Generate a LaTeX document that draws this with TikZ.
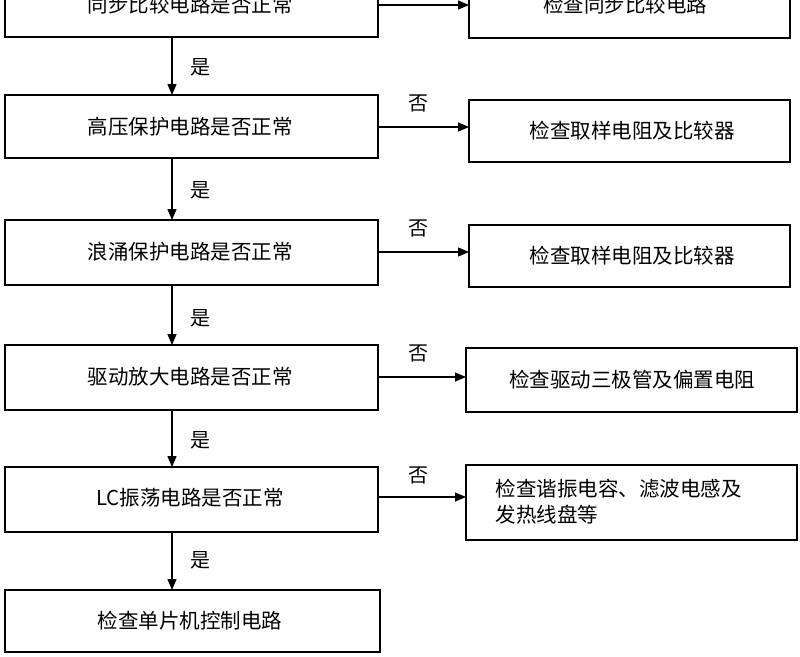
\documentclass[tikz,border=0pt]{standalone}
\usepackage{fontspec}
\newfontfamily\cjk{Noto Sans CJK SC}
\usetikzlibrary{arrows.meta}
\begin{document}
\begin{tikzpicture}[x=1pt,y=-1pt,
  box/.style={draw,line width=1.6pt,inner sep=0pt},
  txt/.style={font=\cjk\fontsize{20.5}{26}\selectfont},
  arr/.style={line width=1.3pt,-{Triangle[length=11pt,width=9pt]}},
  lbl/.style={font=\cjk\fontsize{20}{22}\selectfont}]
\useasboundingbox (0,0) rectangle (800,656);
\begin{scope}
\clip (0,0) rectangle (800,656);
% left boxes
\draw[box] (5,-30) rectangle (378,37);
\node[txt] (l1) at (190,5) {同步比较电路是否正常};
\draw[box] (5,95) rectangle (378,158);
\node[txt] (l2) at (190,127) {高压保护电路是否正常};
\draw[box] (5,220) rectangle (378,285);
\node[txt] (l3) at (190,252) {浪涌保护电路是否正常};
\draw[box] (5,345) rectangle (378,410);
\node[txt] (l4) at (190,377) {驱动放大电路是否正常};
\draw[box] (5,467) rectangle (378,532);
\node[txt] (l5) at (190,498) {LC振荡电路是否正常};
\draw[box] (5,590) rectangle (380,652);
\node[txt] (l6) at (190,621) {检查单片机控制电路};
% right boxes
\draw[box] (469,-30) rectangle (790,38);
\node[txt] (r1) at (625,5) {检查同步比较电路};
\draw[box] (469,100) rectangle (790,162);
\node[txt] (r2) at (632,131) {检查取样电阻及比较器};
\draw[box] (469,225) rectangle (790,287);
\node[txt] (r3) at (632,256) {检查取样电阻及比较器};
\draw[box] (466,348) rectangle (797,412);
\node[txt] (r4) at (632,380) {检查驱动三极管及偏置电阻};
\draw[box] (466,465) rectangle (797,540);
\node[txt,align=left,anchor=west] (r5) at (492,502) {检查谐振电容、滤波电感及\\发热线盘等};
% vertical arrows
\coordinate (a1) at (172,37); \coordinate (b1) at (172,95);
\coordinate (a2) at (172,158); \coordinate (b2) at (172,220);
\coordinate (a3) at (172,285); \coordinate (b3) at (172,345);
\coordinate (a4) at (172,410); \coordinate (b4) at (172,467);
\coordinate (a5) at (172,532); \coordinate (b5) at (172,590);
\foreach \i in {1,...,5} \draw[arr] (a\i) -- (b\i);
% horizontal arrows
\coordinate (h1) at (378,5); \coordinate (k1) at (469,5);
\coordinate (h2) at (378,127); \coordinate (k2) at (469,127);
\coordinate (h3) at (378,252); \coordinate (k3) at (469,252);
\coordinate (h4) at (378,377); \coordinate (k4) at (466,377);
\coordinate (h5) at (378,497); \coordinate (k5) at (466,497);
\foreach \i in {1,...,5} \draw[arr] (h\i) -- (k\i);
% labels
\foreach \y in {67,190,318,440,560} \node[lbl] at (200,\y) {是};
\foreach \y in {103,228,353,475} \node[lbl] at (418,\y) {否};
\end{scope}
\end{tikzpicture}
\end{document}
